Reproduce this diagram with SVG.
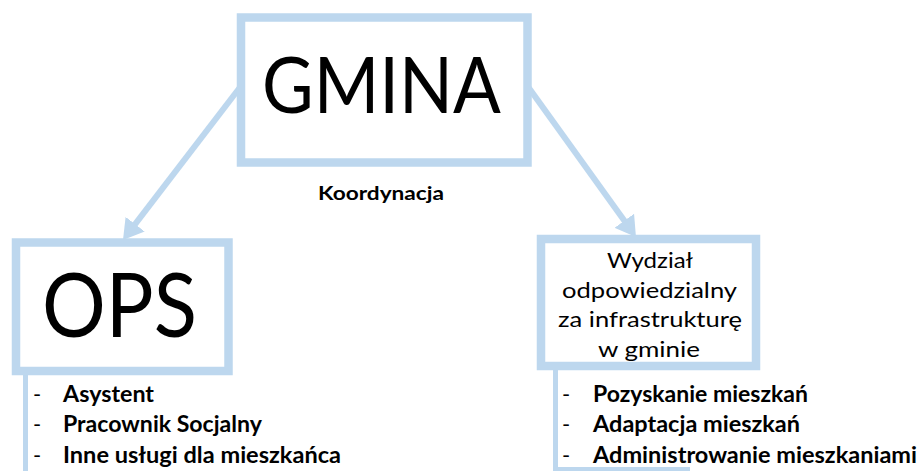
<svg xmlns="http://www.w3.org/2000/svg" width="923" height="471" viewBox="0 0 923 471">
  <style>
    .box { fill: #ffffff; stroke: #BDD7EE; stroke-width: 8.5; }
    .conn { stroke: #BDD7EE; stroke-width: 6; fill: none; }
    .bar { fill: #BDD7EE; }
    text { font-family: Lato, "Open Sans", "Liberation Sans", sans-serif; fill: #000000; }
    .big { font-size: 78px; }
    .mid { font-size: 22px; }
    .item { font-size: 22px; font-weight: bold; }
    .dash { font-size: 22px; }
    .lbl { font-size: 18.5px; font-weight: bold; }
  </style>
  <defs>
    <marker id="head" viewBox="0 0 20 24" refX="6" refY="12" markerWidth="20" markerHeight="24" markerUnits="userSpaceOnUse" orient="auto">
      <path d="M0,0 L20,12 L0,24 z" fill="#BDD7EE"/>
    </marker>
  </defs>
  <rect width="923" height="471" fill="#ffffff"/>

  <g id="connectors">
    <line class="conn" x1="241" y1="86" x2="131.5" y2="228.9" marker-end="url(#head)"/>
    <line class="conn" x1="527.5" y1="86" x2="627.8" y2="225.6" marker-end="url(#head)"/>
    <rect class="bar" x="23" y="372" width="5" height="99"/>
    <rect class="bar" x="553" y="368" width="5" height="103"/>
    <rect class="bar" x="553" y="467" width="137" height="4"/>
  </g>

  <g id="gmina">
    <rect class="box" x="241" y="17.5" width="286.5" height="145"/>
    <text class="big" x="262" y="113" textLength="239" lengthAdjust="spacingAndGlyphs">GMINA</text>
  </g>

  <g id="koordynacja">
    <text class="lbl" x="318" y="200" textLength="126" lengthAdjust="spacingAndGlyphs">Koordynacja</text>
  </g>

  <g id="ops">
    <rect class="box" x="16" y="242.5" width="212.5" height="128.5"/>
    <text x="42" y="337" font-size="90" textLength="155" lengthAdjust="spacingAndGlyphs">OPS</text>
  </g>

  <g id="ops-list">
    <text class="dash" x="33" y="402">-</text>
    <text class="item" x="63" y="402" textLength="91" lengthAdjust="spacingAndGlyphs">Asystent</text>
    <text class="dash" x="33" y="432">-</text>
    <text class="item" x="63" y="432" textLength="199" lengthAdjust="spacingAndGlyphs">Pracownik Socjalny</text>
    <text class="dash" x="33" y="463">-</text>
    <text class="item" x="63" y="463" textLength="278" lengthAdjust="spacingAndGlyphs">Inne usługi dla mieszkańca</text>
  </g>

  <g id="wydzial">
    <rect class="box" x="541" y="239" width="215" height="127"/>
    <text class="mid" x="607" y="268" textLength="86" lengthAdjust="spacingAndGlyphs">Wydział</text>
    <text class="mid" x="562" y="298" textLength="175" lengthAdjust="spacingAndGlyphs">odpowiedzialny</text>
    <text class="mid" x="558" y="327" textLength="184" lengthAdjust="spacingAndGlyphs">za infrastrukturę</text>
    <text class="mid" x="598" y="357" textLength="102" lengthAdjust="spacingAndGlyphs">w gminie</text>
  </g>

  <g id="wydzial-list">
    <text class="dash" x="562" y="402">-</text>
    <text class="item" x="593" y="402" textLength="215" lengthAdjust="spacingAndGlyphs">Pozyskanie mieszkań</text>
    <text class="dash" x="562" y="432">-</text>
    <text class="item" x="593" y="432" textLength="207" lengthAdjust="spacingAndGlyphs">Adaptacja mieszkań</text>
    <text class="dash" x="562" y="463">-</text>
    <text class="item" x="593" y="463" textLength="324" lengthAdjust="spacingAndGlyphs">Administrowanie mieszkaniami</text>
  </g>
</svg>
